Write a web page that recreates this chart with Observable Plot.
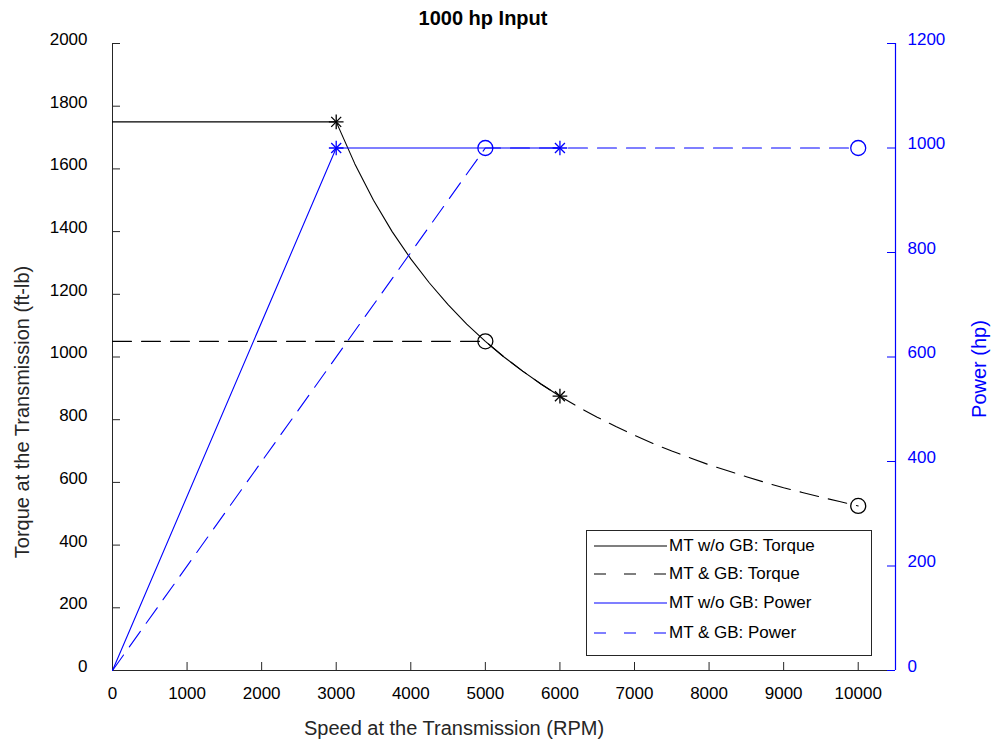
<!DOCTYPE html>
<html>
<head>
<meta charset="utf-8">
<script src="https://cdn.jsdelivr.net/npm/d3@7"></script>
<script src="https://cdn.jsdelivr.net/npm/@observablehq/plot@0.6"></script>
<style>
  body { margin: 0; background: #fff; font-family: "Liberation Sans", Arial, sans-serif; }
  #wrap { position: relative; width: 992px; height: 740px; }
  #legend { position: absolute; left: 586px; top: 530px; width: 284px; height: 124px;
            border: 1px solid #262626; background: #fff; font-size: 17px; color: #000; }
  .row { position: absolute; left: 0; height: 20px; display: flex; align-items: center; }
  .row svg { margin-left: 7px; }
  .row span { margin-left: 2px; }
</style>
</head>
<body>
<div id="wrap"></div>
<script>
// ---- data ----
const titleText = "1000 hp Input";
const xLabel = "Speed at the Transmission (RPM)";
const yLabelLeft = "Torque at the Transmission (ft-lb)";
const yLabelRight = "Power (hp)";

const xTicks = [0, 1000, 2000, 3000, 4000, 5000, 6000, 7000, 8000, 9000, 10000];
const torqueTicks = [0, 200, 400, 600, 800, 1000, 1200, 1400, 1600, 1800, 2000];
const powerTicks = [0, 200, 400, 600, 800, 1000, 1200];

// MT w/o GB torque
const mtTorqueRpm = [0, 3000, 3250, 3500, 3750, 4000, 4250, 4500, 4750, 5000, 5250, 5500, 5750, 6000];
const mtTorqueVal = [1750, 1750, 1616, 1500, 1400, 1313, 1236, 1167, 1105, 1050, 1000, 955, 913, 875];
// MT & GB torque
const gbTorqueRpm = [0, 5000, 5250, 5500, 5750, 6000, 6250, 6500, 6750, 7000, 7250, 7500, 7750, 8000, 8250, 8500, 8750, 9000, 9250, 9500, 9750, 10000];
const gbTorqueVal = [1050, 1050, 1000, 955, 913, 875, 840, 808, 778, 750, 724, 700, 678, 656, 637, 618, 600, 583, 568, 553, 539, 525];
// markers on torque curves
const mtTorqueMarkRpm = [3000, 6000];
const mtTorqueMarkVal = [1750, 875];
const gbTorqueMarkRpm = [5000, 10000];
const gbTorqueMarkVal = [1050, 525];
// power (hp)
const mtPowerRpm = [0, 3000, 6000];
const mtPowerVal = [0, 1000, 1000];
const gbPowerRpm = [0, 5000, 10000];
const gbPowerVal = [0, 1000, 1000];
const mtPowerMarkRpm = [3000, 6000];
const mtPowerMarkVal = [1000, 1000];
const gbPowerMarkRpm = [5000, 10000];
const gbPowerMarkVal = [1000, 1000];

const legendLabels = ["MT w/o GB: Torque", "MT & GB: Torque", "MT w/o GB: Power", "MT & GB: Power"];

// ---- build ----
const torqueMax = 2000, powerMax = 1200;
const p2t = v => v * torqueMax / powerMax; // map power onto torque scale
const zip = (xs, ys) => xs.map((x, i) => ({x, y: ys[i]}));
const zipP = (xs, ys) => xs.map((x, i) => ({x, y: p2t(ys[i])}));

const mtT = zip(mtTorqueRpm, mtTorqueVal);
const gbT = zip(gbTorqueRpm, gbTorqueVal);
const mtTm = zip(mtTorqueMarkRpm, mtTorqueMarkVal);
const gbTm = zip(gbTorqueMarkRpm, gbTorqueMarkVal);
const mtP = zipP(mtPowerRpm, mtPowerVal);
const gbP = zipP(gbPowerRpm, gbPowerVal);
const mtPm = zipP(mtPowerMarkRpm, mtPowerMarkVal);
const gbPm = zipP(gbPowerMarkRpm, gbPowerMarkVal);

const W = 992, H = 740, mL = 112, mR = 97, mT = 43, mB = 70;
const fw = W - mL - mR, fh = H - mT - mB;
const tick = 8;
const axisCol = "#262626";
const dash = "19,10";

const star = (data, color) => [
  Plot.dot(data, {x: "x", y: "y", symbol: "plus", r: 4.8, stroke: color, strokeWidth: 1.3}),
  Plot.dot(data, {x: "x", y: "y", symbol: "times", r: 4.6, stroke: color, strokeWidth: 1.3})
];
const circ = (data, color) =>
  Plot.dot(data, {x: "x", y: "y", symbol: "circle", r: 7.5, stroke: color, strokeWidth: 1.3, fill: "none"});

const chart = Plot.plot({
  width: W, height: H,
  marginLeft: mL, marginRight: mR, marginTop: mT, marginBottom: mB,
  style: {fontFamily: "'Liberation Sans', Arial, sans-serif", fontSize: "17px", color: "#000", background: "#fff"},
  x: {domain: [0, 10500]},
  y: {domain: [0, torqueMax]},
  marks: [
    // axis lines
    Plot.ruleX([0], {stroke: axisCol, strokeWidth: 1}),
    Plot.ruleY([0], {stroke: axisCol, strokeWidth: 1}),
    Plot.ruleX([10500], {stroke: "#0000ff", strokeWidth: 1.2}),
    // inward ticks
    Plot.tickX(xTicks, {x: d => d, insetTop: fh - tick, stroke: axisCol}),
    Plot.tickY(torqueTicks, {y: d => d, insetRight: fw - tick, stroke: axisCol}),
    Plot.tickY(powerTicks, {y: d => p2t(d), insetLeft: fw - tick, stroke: "#0000ff"}),
    // tick labels
    Plot.axisX({ticks: xTicks, tickSize: 0, tickPadding: 16, label: null, tickFormat: d => String(d), fontSize: 17, fill: "#000"}),
    Plot.axisY({ticks: torqueTicks, tickSize: 0, tickPadding: 25, label: null, tickFormat: d => String(d), fontSize: 17, dy: -4, fill: "#000"}),
    Plot.text(powerTicks, {y: d => p2t(d), text: d => String(d), frameAnchor: "right", textAnchor: "start", dx: 12, dy: -4, fill: "#0000ff", fontSize: 17}),
    // axis labels & title
    Plot.text([xLabel], {text: d => d, frameAnchor: "bottom", textAnchor: "middle", lineAnchor: "middle", dy: 58, dx: -50, fontSize: 20, fill: "#262626"}),
    Plot.text([yLabelLeft], {text: d => d, frameAnchor: "left", textAnchor: "middle", lineAnchor: "middle", rotate: -90, dx: -90, dy: 55, fontSize: 20, fill: "#262626"}),
    Plot.text([yLabelRight], {text: d => d, frameAnchor: "right", textAnchor: "middle", lineAnchor: "middle", rotate: -90, dx: 84, dy: 12, fontSize: 20, fill: "#0000ff"}),
    Plot.text([titleText], {text: d => d, frameAnchor: "top", textAnchor: "middle", lineAnchor: "middle", dy: -25, dx: -21, fontSize: 20, fontWeight: "bold", fill: "#000"}),
    // data lines
    Plot.line(gbT, {x: "x", y: "y", stroke: "#000", strokeWidth: 1.1, strokeDasharray: dash}),
    Plot.line(mtT, {x: "x", y: "y", stroke: "#000", strokeWidth: 1.1}),
    Plot.line(gbP, {x: "x", y: "y", stroke: "#0000ff", strokeWidth: 1.1, strokeDasharray: dash}),
    Plot.line(mtP, {x: "x", y: "y", stroke: "#0000ff", strokeWidth: 1.1}),
    // markers
    ...star(mtTm, "#000"),
    circ(gbTm, "#000"),
    ...star(mtPm, "#0000ff"),
    circ(gbPm, "#0000ff")
  ]
});

const wrap = document.getElementById("wrap");
wrap.appendChild(chart);

// legend
const legendStyles = [
  {color: "#000", dash: null},
  {color: "#000", dash: "12,18"},
  {color: "#0000ff", dash: null},
  {color: "#0000ff", dash: "12,18"}
];
const rowTops = [5, 33, 62, 92];
const legend = document.createElement("div");
legend.id = "legend";
legendLabels.forEach((lab, i) => {
  const row = document.createElement("div");
  row.className = "row";
  row.style.top = rowTops[i] + "px";
  const s = legendStyles[i];
  row.innerHTML = `<svg width="73" height="4"><line x1="0" y1="2" x2="73" y2="2" stroke="${s.color}" stroke-width="1.1" ${s.dash ? `stroke-dasharray="${s.dash}"` : ""}/></svg><span>${lab.replace("&", "&amp;")}</span>`;
  legend.appendChild(row);
});
wrap.appendChild(legend);
</script>
</body>
</html>
